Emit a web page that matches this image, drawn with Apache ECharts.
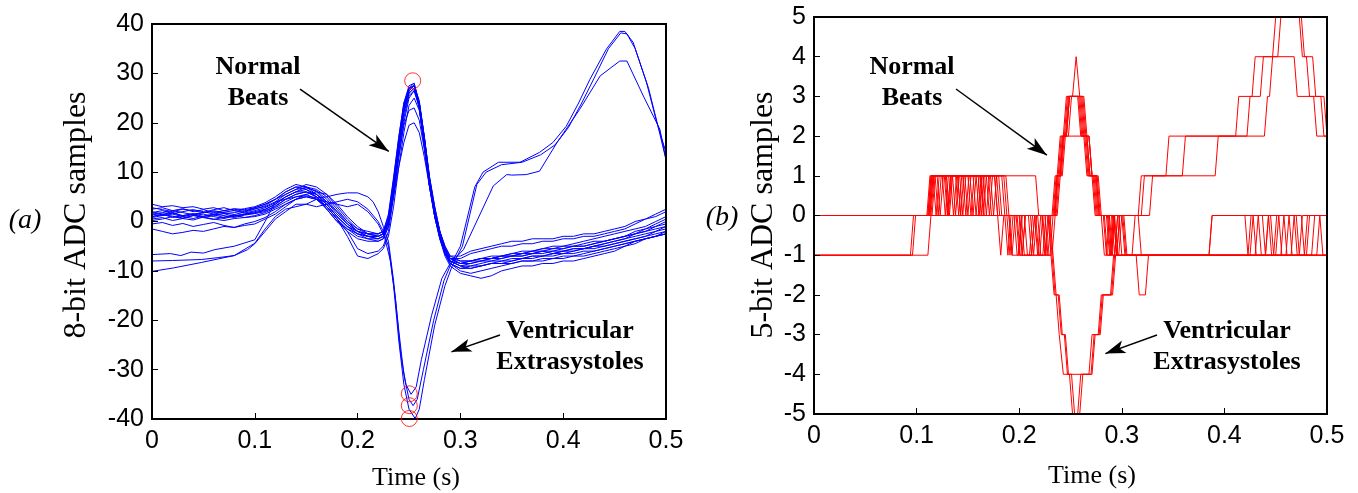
<!DOCTYPE html>
<html><head><meta charset="utf-8">
<script src="https://cdn.jsdelivr.net/npm/echarts@6/dist/echarts.min.js"></script>
<style>html,body{margin:0;padding:0;background:#fff}#c{width:1358px;height:493px}</style>
</head><body><div id="c"></div>
<script>
// ---------- Panel (a): 8-bit samples ----------
const timeL = [0,0.01,0.02,0.03,0.04,0.05,0.06,0.07,0.08,0.09,0.10,0.11,0.12,0.13,0.14,0.15,0.16,0.17,0.18,0.19,0.20,0.21,0.22,
  0.225,0.23,0.235,0.24,0.245,0.25,0.255,0.26,0.265,0.27,0.275,0.28,0.285,0.29,
  0.30,0.31,0.32,0.33,0.34,0.35,0.36,0.37,0.38,0.39,0.40,0.41,0.42,0.43,0.44,0.45,0.46,0.47,0.48,0.49,0.50];

const beatN1 = [1.5,1.2,1.8,1.0,1.4,0.8,1.2,1.6,1.0,1.5,2.0,2.5,3.5,5.0,6.0,6.5,5.5,3.5,1.0,-1.0,-2.5,-3.0,-3.0,
  -2.5,0.5,8,16,23,27,28,24,16,8,2,-2.5,-5.5,-7.5,
  -8.5,-8,-7.5,-7.5,-7,-7,-6.5,-6.5,-6,-6.5,-6,-5.5,-5.5,-5,-4.5,-4,-3.5,-2.5,-2,-1.5,-1];
const beatN2 = [2.5,2.8,2.2,2.6,2.0,2.4,1.8,2.2,2.5,2.0,2.8,3.5,4.5,6.0,7.0,7.0,6.0,4.0,1.5,-0.5,-2.0,-2.5,-2.5,
  -2,1.5,9,17,24,27.5,28,24,17,9,3,-2,-5,-7,
  -7,-6,-5.5,-5,-4.5,-4,-4,-3.5,-3.5,-3.5,-3,-3,-2.5,-2.5,-2,-1.5,-1,0,0.5,1.5,2.5];
const beatN3 = [0.5,0.8,0.2,0.6,0.3,0.9,0.5,0.2,0.6,0.8,1.2,1.8,2.8,4.0,5.0,5.5,4.5,2.5,0.0,-2.0,-3.5,-4.0,-4.0,
  -3.5,-1,6,14,21,25.5,26.5,23,15,7,1,-3.5,-6.5,-8.5,
  -9.5,-9,-9,-8.5,-8,-8,-7.5,-7.5,-7,-7,-6.5,-6.5,-6,-6,-5.5,-5,-4.5,-4,-3.5,-3,-2.5];
const beatN4 = [1.0,1.5,0.8,1.2,1.6,1.0,1.4,0.8,1.2,1.5,1.8,2.2,3.0,4.5,5.5,6.0,5.5,4.0,2.0,0.0,-1.5,-2.0,-2.5,
  -2,0,5,11,16,19.5,20,18,13,7,2,-2,-5,-7,
  -8,-8,-7.5,-7,-7,-6.5,-6,-6,-5.5,-5,-5,-4.5,-4,-3.5,-3,-2.5,-2,-1.5,-1,0,1];
const beatN5 = [3.5,3.0,3.2,2.8,3.0,2.5,2.8,2.2,2.6,2.4,2.8,3.5,4.5,5.5,6.5,7.5,7.0,5.5,3.0,0.5,-1.5,-2.5,-3.0,
  -2.5,0.5,8,16,23,26.5,27.5,24,17,9,3,-2,-5.5,-7.5,
  -8.5,-8.5,-8,-7.5,-7.5,-7,-7,-6.5,-6.5,-6,-6,-5.5,-5.5,-5,-4.5,-4,-3.5,-3,-2.5,-2,-1.5];
const beatN6 = [-0.5,-0.2,-0.8,-0.4,-1.0,-0.6,-0.2,-0.8,-1.2,-0.5,0.0,0.8,2.0,3.5,4.5,5.0,4.5,3.0,0.5,-2.0,-5.5,-6.5,-6.0,
  -5,-2,5,13,20,25,26.5,23.5,16,8,1.5,-3,-6.5,-8.5,
  -10,-10.5,-10,-9.5,-9,-8.5,-8,-8,-7.5,-7.5,-7,-7,-6.5,-6,-5.5,-5,-4.5,-4,-3.5,-3,-2.5];
const beatN7 = [1.8,2.2,1.6,2.0,2.4,2.0,1.5,1.9,2.2,1.7,2.2,2.8,3.8,5.0,6.0,7.0,6.5,5.0,2.5,0.0,-2.0,-3.0,-3.5,
  -3,0,7,15,22,26,27,23.5,16.5,8.5,2.5,-2.5,-6,-8,
  -9,-8.5,-8,-8,-7.5,-7,-7,-6.5,-6,-6,-5.5,-5,-5,-4.5,-4,-3.5,-3,-2,-1.5,-1,-0.5];
const beatN8 = [0.8,1.2,1.5,1.0,0.6,1.1,1.5,1.2,0.8,1.3,1.6,2.0,3.2,4.5,5.5,6.0,5.0,3.5,1.0,-1.0,-2.5,-3.5,-3.5,
  -3,0,7.5,16,23.5,27,27.5,23,15.5,7.5,1.5,-3,-6,-8,
  -9,-9,-8.5,-8,-8,-7.5,-7.5,-7,-7,-6.5,-6,-6,-5.5,-5,-5,-4.5,-4,-3.5,-3,-2,-1];
const beatN9 = [-1.5,-2.0,-2.5,-2.2,-1.8,-2.0,-1.5,-1.0,-1.2,-0.8,-0.5,0.5,1.5,3.0,4.5,5.0,4.5,3.0,0.5,-3.0,-7.0,-7.5,-6.5,
  -5.5,-3,3,11,18,23.5,25,22.5,15.5,7.5,1,-3.5,-7,-9,
  -10.5,-11,-11.5,-11,-10,-9.5,-9,-9,-8.5,-8.5,-8,-8,-7.5,-7,-6.5,-6,-5,-4,-3.5,-3,-2.5];
const beatN10 = [2.0,1.5,1.8,1.2,1.5,1.8,2.2,1.8,1.4,1.9,2.5,3.2,4.5,6.0,7.0,6.5,5.0,2.5,0.0,-1.5,-2.5,-3.0,-3.5,
  -3,-0.5,6.5,15,22,26,27,24,16.5,8,2,-2.5,-5.5,-7.5,
  -7.5,-6.5,-6,-5.5,-5,-5,-4.5,-4.5,-4,-4,-3.5,-3.5,-3,-3,-2.5,-2,-1.5,-0.5,0.5,1,2];
const beatN11 = [0.2,0.5,1.0,0.6,1.2,0.8,0.4,0.9,1.3,0.8,1.0,1.5,2.5,3.5,4.5,5.5,6.0,5.5,3.5,1.0,-1.0,-2.5,-3.0,
  -2.5,0,6,15,22.5,26.5,27.5,24,17,8.5,2,-3,-6.5,-8.5,
  -9.5,-9.5,-9,-8.5,-8.5,-8,-7.5,-7,-7,-6.5,-6.5,-6,-5.5,-5.5,-5,-4.5,-4,-3.5,-3,-2.5,-2];
const beatN12 = [2.8,2.4,2.0,2.5,2.2,1.8,2.4,2.8,2.2,2.6,3.0,3.8,5.0,6.5,7.5,7.0,5.5,3.5,1.0,-1.0,-2.0,-2.5,-2.5,
  -2,1,8.5,17,24,27,27.5,23,15,7,1,-3,-6,-8,
  -8.5,-8,-8,-7.5,-7,-6.5,-6.5,-6,-5.5,-5.5,-5,-5,-4.5,-4,-4,-3.5,-3,-2.5,-2,-1,0];
const beatN13 = [1.0,1.4,1.1,0.7,1.2,1.5,1.0,0.6,1.1,1.4,1.7,2.4,3.5,5.0,6.0,6.0,5.0,3.0,0.5,-1.5,-3.0,-3.5,-4.0,
  -3.5,-1,5.5,13,19.5,22.5,23,20.5,14.5,7,1,-3.5,-6.5,-8,
  -9,-9.5,-9,-8.5,-8.5,-8.5,-8,-8,-8,-7.5,-7.5,-7,-7,-6.5,-6,-5.5,-5,-4.5,-3.5,-3,-2];
const beatN14 = [1.5,1.8,2.2,1.8,1.4,1.8,2.0,1.6,1.8,2.2,2.6,3.0,4.0,5.5,6.5,6.8,6.2,4.5,2.0,-0.5,-2.0,-3.0,-3.0,
  -2.5,0,7.5,16,23,26.5,27.5,24.5,17,8.5,2.5,-2,-5.5,-7.5,
  -8,-8,-7.5,-7.5,-7,-7,-6.5,-6,-6,-5.5,-5.5,-5,-5,-4.5,-4,-3.5,-3,-2.5,-1.5,-0.5,0.5];
const normalBeats8 = [beatN1,beatN2,beatN3,beatN4,beatN5,beatN6,beatN7,beatN8,beatN9,beatN10,beatN11,beatN12,beatN13,beatN14];

// ventricular extrasystoles, [time s, sample]
const pvc8A = [[0,-6.7],[0.018,-6.5],[0.028,-6.9],[0.038,-6.2],[0.05,-6.4],[0.061,-5.7],[0.08,-5],[0.1,-3.7],[0.11,0],[0.12,4],[0.13,4.5],[0.14,5],[0.15,5.2],[0.16,4.8],[0.17,5],[0.18,5.5],[0.19,5.8],[0.2,5.8],[0.21,5],[0.215,4],[0.22,2],[0.225,-1],[0.23,-4],[0.235,-12],[0.24,-22],[0.245,-31],[0.25,-36],[0.254,-37.3],[0.258,-36],[0.264,-30],[0.274,-20],[0.284,-12],[0.29,-9],[0.3,-5],[0.314,7],[0.322,10],[0.337,12],[0.358,12],[0.377,14],[0.39,16],[0.403,19.3],[0.415,24],[0.426,28.8],[0.442,34.9],[0.455,38.5],[0.46,38.5],[0.468,36.3],[0.481,28.2],[0.491,20.1],[0.5,14]];
const pvc8B = [[0,-8],[0.02,-7.9],[0.048,-7.7],[0.065,-7.3],[0.08,-6.9],[0.093,-5.7],[0.1,-4.5],[0.11,-2],[0.12,0.5],[0.13,2],[0.14,3.5],[0.15,3.5],[0.16,3],[0.17,3.5],[0.18,4],[0.19,4.5],[0.2,4],[0.21,2.5],[0.22,0],[0.225,-2],[0.23,-5],[0.235,-13],[0.24,-24],[0.245,-33],[0.25,-38],[0.256,-39.9],[0.26,-38],[0.265,-32],[0.275,-21],[0.285,-13],[0.292,-9],[0.302,-5],[0.316,7.5],[0.325,10],[0.34,11.5],[0.36,12],[0.378,13.5],[0.392,15.5],[0.405,19],[0.418,24],[0.43,29],[0.444,35],[0.456,38.2],[0.462,38],[0.47,35],[0.483,27],[0.492,19.5],[0.5,12.5]];
const pvc8C = [[0,-10.1],[0.021,-9.4],[0.048,-8.3],[0.08,-6.9],[0.1,-4.4],[0.11,-1.5],[0.12,1],[0.13,2.5],[0.14,3],[0.15,3.5],[0.16,4.5],[0.17,4],[0.18,3.5],[0.19,3],[0.2,3.5],[0.21,2],[0.22,-0.5],[0.226,-3],[0.232,-8],[0.237,-16],[0.242,-27],[0.247,-33],[0.252,-35],[0.257,-33.5],[0.262,-28],[0.272,-19],[0.282,-11.5],[0.29,-8.5],[0.303,-5.7],[0.332,7.2],[0.345,9.5],[0.35,9.4],[0.364,9.5],[0.377,10.2],[0.394,16],[0.416,22.7],[0.436,29.5],[0.455,32.5],[0.462,32.5],[0.478,25.4],[0.494,18.7],[0.5,12.6]];
const pvcBeats8 = [pvc8A,pvc8B,pvc8C];
const peakMarks8 = [[0.2536,28.5],[0.2503,-34.9],[0.2503,-37.3],[0.2503,-39.9]];

// ---------- Panel (b): 5-bit samples, flat lists [time ms, level, ...] ----------
const q5N1 = [0,0, 111,0, 114,1, 125,1, 128,0, 131,1, 150,1, 153,0, 156,1, 170,1, 173,0, 190,0, 193,-1, 196,0, 205,0, 208,-1, 214,-1, 217,0, 232,0, 235,1, 238,1, 241,2, 244,2, 247,3, 258,3, 261,2, 264,2, 267,1, 272,1, 275,0, 282,0, 285,-1, 288,0, 291,-1, 430,-1, 433,0, 436,-1, 460,-1, 463,0, 466,-1, 480,-1, 483,0, 500,0];
const q5N2 = [0,0, 113,0, 116,1, 120,1, 123,0, 126,1, 138,1, 141,0, 144,1, 160,1, 163,0, 166,1, 176,1, 179,0, 186,0, 189,-1, 192,0, 198,0, 201,-1, 212,-1, 215,0, 218,-1, 221,0, 234,0, 237,1, 240,1, 243,2, 246,2, 249,3, 252,3, 255.5,4, 259,3, 263,3, 266,2, 268,2, 271,1, 274,1, 277,0, 286,0, 289,-1, 292,0, 295,-1, 385,-1, 388,0, 420,0, 423,-1, 426,0, 445,0, 448,-1, 451,0, 470,0, 473,-1, 476,0, 500,0];
const q5N3 = [0,0, 112,0, 115,1, 118,1, 121,0, 124,1, 133,1, 136,0, 139,1, 145,1, 148,0, 151,1, 165,1, 168,0, 171,1, 180,1, 183,0, 195,0, 198,-1, 210,-1, 213,0, 222,0, 225,-1, 228,0, 233,0, 236,1, 239,1, 242,2, 245,2, 248,3, 260,3, 263,2, 266,2, 269,1, 276,1, 279,0, 283,0, 286,-1, 290,-1, 293,0, 296,-1, 314,-1, 317,-2, 323,-2, 326,-1, 440,-1, 443,0, 446,-1, 490,-1, 493,0, 496,-1, 500,-1];
const q5N4 = [0,0, 114,0, 117,1, 128,1, 131,0, 134,1, 142,1, 145,0, 148,1, 158,1, 161,0, 164,1, 185,1, 188,0, 200,0, 203,-1, 206,0, 216,0, 219,-1, 223,-1, 226,0, 235,0, 238,1, 241,1, 244,2, 268,2, 271,1, 275,1, 278,0, 290,0, 293,-1, 296,0, 300,0, 303,-1, 455,-1, 458,0, 461,-1, 500,-1];
const q5N5 = [0,0, 110,0, 113,1, 116,1, 119,0, 122,1, 129,1, 132,0, 135,1, 155,1, 158,0, 161,1, 168,1, 171,0, 174,1, 178,1, 181,0, 188,0, 191,-1, 194,0, 202,0, 205,-1, 220,-1, 223,0, 226,-1, 229,0, 236,0, 239,1, 242,1, 245,2, 248,2, 251,3, 262,3, 265,2, 268,2, 271,1, 277,1, 280,0, 292,0, 295,-1, 298,0, 302,0, 305,-1, 425,-1, 428,0, 431,-1, 465,-1, 468,0, 471,-1, 500,-1];
const q5N6 = [0,0, 115,0, 118,1, 135,1, 138,0, 141,1, 147,1, 150,0, 153,1, 172,1, 175,0, 178,1, 183,1, 186,0, 209,0, 212,-1, 215,0, 225,0, 228,-1, 231,0, 234,0, 237,1, 240,1, 243,2, 246,2, 249,3, 261,3, 264,2, 266,2, 269,1, 275,1, 278,0, 285,0, 288,-1, 291,0, 297,0, 300,-1, 385,-1, 388,0, 437,0, 440,-1, 443,0, 475,0, 478,-1, 481,0, 500,0];
const q5N7 = [0,0, 113,0, 116,1, 140,1, 143,0, 146,1, 162,1, 165,0, 168,1, 187,1, 190,0, 193,-1, 199,-1, 202,0, 211,0, 214,-1, 230,-1, 233,0, 237,0, 240,1, 243,2, 246,2, 249,3, 259,3, 262,2, 265,2, 268,1, 273,1, 276,0, 280,0, 283,-1, 500,-1];
const q5N8 = [0,0, 112,0, 115,1, 127,1, 130,0, 133,1, 152,1, 155,0, 158,1, 176,1, 179,0, 182,-1, 185,0, 197,0, 200,-1, 203,0, 218,0, 221,-1, 232,-1, 235,0, 237,1, 240,2, 243,2, 246,3, 257,3, 260,2, 263,2, 266,1, 271,1, 274,0, 287,0, 290,-1, 293,0, 301,0, 304,-1, 310,-1, 313,0, 316,0, 319,-1, 450,-1, 453,0, 456,-1, 485,-1, 488,0, 500,0];
const q5V1 = [0,-1, 94,-1, 97,0, 111,0, 114,1, 216,1, 219,0, 228,0, 231,-1, 234,-2, 238,-2, 241,-3, 244,-3, 247,-4, 249,-4, 252,-5, 257,-5, 260,-4, 268,-4, 271,-3, 277,-3, 280,-2, 289,-2, 292,-1, 295,-1, 298,0, 316,0, 319,1, 343,1, 346,2, 411,2, 414,3, 427,3, 430,4, 447,4, 450,5, 473,5, 476,4, 480,4, 483,3, 494,3, 497,2, 500,2];
const q5V2 = [0,-1, 111,-1, 114,0, 130,0, 133,1, 140,1, 143,0, 200,0, 203,-1, 206,0, 229,0, 232,-1, 235,-2, 239,-2, 242,-3, 245,-3, 248,-4, 251,-4, 254,-5, 259,-5, 262,-4, 271,-4, 274,-3, 279,-3, 282,-2, 291,-2, 294,-1, 297,-1, 300,0, 319,0, 322,1, 359,1, 362,2, 422,2, 425,3, 435,3, 438,4, 452,4, 455,5, 475,5, 478,4, 486,4, 489,3, 497,3, 500,2];
const q5V3 = [0,-1, 96,-1, 99,0, 160,0, 163,1, 166,0, 230,0, 233,-1, 236,-2, 239,-3, 243,-4, 270,-4, 273,-3, 278,-3, 281,-2, 290,-2, 293,-1, 296,0, 327,0, 330,1, 391,1, 394,2, 439,2, 442,3, 444,3, 447,4, 468,4, 471,3, 487,3, 490,2, 500,2];
const quantLines5 = [q5N1,q5N2,q5N3,q5N4,q5N5,q5N6,q5N7,q5N8,q5V1,q5V2,q5V3];

const xTicks = [0,0.1,0.2,0.3,0.4,0.5];

function msPairs(flat){ const out=[]; for(let i=0;i<flat.length;i+=2) out.push([flat[i]/1000, flat[i+1]]); return out; }

const series = [];
normalBeats8.forEach(b => series.push({type:'line', xAxisIndex:0, yAxisIndex:0, data: timeL.map((t,i)=>[t,b[i]]),
  symbol:'none', silent:true, lineStyle:{color:'#0000ff', width:1}, z:2}));
pvcBeats8.forEach(b => series.push({type:'line', xAxisIndex:0, yAxisIndex:0, data:b,
  symbol:'none', silent:true, lineStyle:{color:'#0000ff', width:1}, z:2}));
series.push({type:'scatter', xAxisIndex:0, yAxisIndex:0, data: peakMarks8, symbol:'circle', symbolSize:16, silent:true,
  itemStyle:{color:'rgba(255,255,255,0)', borderColor:'#ff0000', borderWidth:1}, z:5});
quantLines5.forEach(q => series.push({type:'line', xAxisIndex:1, yAxisIndex:1, data: msPairs(q),
  symbol:'none', silent:true, lineStyle:{color:'#ff0000', width:1}, z:2}));

const annLabel = {show:true, position:'inside', color:'#000', fontFamily:'Liberation Serif', fontWeight:'bold', fontSize:26, lineHeight:31, align:'center',
  textBorderWidth:0, textBorderColor:'rgba(0,0,0,0)', textShadowBlur:0, opacity:1};
const arrowML = (pairs) => ({silent:true, symbol:['none','arrow'], symbolSize:[0,18], label:{show:false},
  lineStyle:{color:'#000', width:1.5, type:'solid'}, emphasis:{disabled:true}, animation:false,
  data: pairs.map(p => [{coord:p[0]}, {coord:p[1], symbolSize:[10,20]}])});
series.push({type:'scatter', xAxisIndex:0, yAxisIndex:0, symbolSize:1, silent:true, itemStyle:{color:'#ffffff', opacity:1}, label:annLabel, z:6,
  data:[{value:[0.1031,28.05], label:{formatter:'Normal\nBeats'}}, {value:[0.4066,-25.36], label:{formatter:'Ventricular\nExtrasystoles'}}],
  markLine: arrowML([[[0.144,26.8],[0.2303,14.2]], [[0.3385,-23.0],[0.2913,-26.4]]])});
series.push({type:'scatter', xAxisIndex:1, yAxisIndex:1, symbolSize:1, silent:true, itemStyle:{color:'#ffffff', opacity:1}, label:annLabel, z:6,
  data:[{value:[0.0955,3.337], label:{formatter:'Normal\nBeats'}}, {value:[0.4025,-3.305], label:{formatter:'Ventricular\nExtrasystoles'}}],
  markLine: arrowML([[[0.1384,3.186],[0.2270,1.52]], [[0.3343,-3.010],[0.2840,-3.479]]])});

const axisCommon = {
  z:3,
  axisLine:{onZero:false, lineStyle:{color:'#000', width:2}},
  axisTick:{inside:true, length:6, lineStyle:{color:'#000', width:1}},
  splitLine:{show:false}
};
const frameAxis = {
  z:3,
  axisLine:{onZero:false, lineStyle:{color:'#000', width:2}},
  axisTick:{show:false}, axisLabel:{show:false}, splitLine:{show:false}
};
const xLab = {color:'#000', fontFamily:'Liberation Sans', fontSize:25, margin:10, formatter: v => v===0 ? '0' : v.toFixed(1)};
const yLab = {color:'#000', fontFamily:'Liberation Sans', fontSize:25, margin:8};

const option = {
  animation:false,
  backgroundColor:'#fff',
  grid:[
    {left:152, top:24, width:514, height:395, show:true, borderColor:'#000', borderWidth:2},
    {left:814, top:17, width:513, height:397, show:true, borderColor:'#000', borderWidth:2}
  ],
  xAxis:[
    Object.assign({gridIndex:0, type:'value', min:xTicks[0], max:xTicks[xTicks.length-1], interval:0.1, axisLabel:xLab}, axisCommon),
    Object.assign({gridIndex:1, type:'value', min:xTicks[0], max:xTicks[xTicks.length-1], interval:0.1, axisLabel:xLab}, axisCommon),
    Object.assign({gridIndex:0, type:'value', position:'top', min:0, max:0.5}, frameAxis),
    Object.assign({gridIndex:1, type:'value', position:'top', min:0, max:0.5}, frameAxis)
  ],
  yAxis:[
    Object.assign({gridIndex:0, type:'value', min:-40, max:40, interval:10, axisLabel:yLab}, axisCommon),
    Object.assign({gridIndex:1, type:'value', min:-5, max:5, interval:1, axisLabel:yLab}, axisCommon),
    Object.assign({gridIndex:0, type:'value', position:'right', min:-40, max:40}, frameAxis),
    Object.assign({gridIndex:1, type:'value', position:'right', min:-5, max:5}, frameAxis)
  ],
  graphic:[
    {type:'text', x:77, y:215, rotation:Math.PI/2, style:{text:'8-bit ADC samples', fontFamily:'Liberation Serif', fontSize:32, fill:'#000', align:'center', verticalAlign:'middle'}},
    {type:'text', x:764, y:215, rotation:Math.PI/2, style:{text:'5-bit ADC samples', fontFamily:'Liberation Serif', fontSize:32, fill:'#000', align:'center', verticalAlign:'middle'}},
    {type:'text', x:416, y:478, style:{text:'Time (s)', fontFamily:'Liberation Serif', fontSize:26, fill:'#000', align:'center', verticalAlign:'middle'}},
    {type:'text', x:1092, y:476, style:{text:'Time (s)', fontFamily:'Liberation Serif', fontSize:26, fill:'#000', align:'center', verticalAlign:'middle'}},
    {type:'text', x:25, y:221, style:{text:'(a)', fontFamily:'Liberation Serif', fontStyle:'italic', fontSize:28, fill:'#000', align:'center', verticalAlign:'middle'}},
    {type:'text', x:722, y:218, style:{text:'(b)', fontFamily:'Liberation Serif', fontStyle:'italic', fontSize:28, fill:'#000', align:'center', verticalAlign:'middle'}}
  ],
  series: series
};
const chart = echarts.init(document.getElementById('c'), null, {renderer:'canvas'});
chart.setOption(option);
</script></body></html>
